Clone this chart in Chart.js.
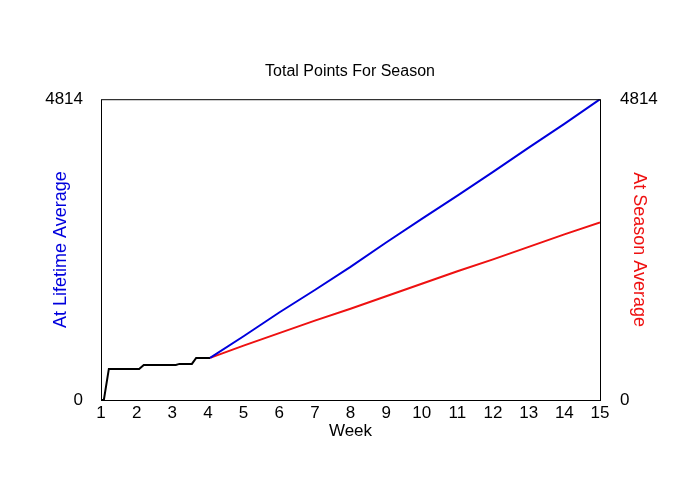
<!DOCTYPE html>
<html><head><script src="https://cdn.jsdelivr.net/npm/chart.js@4"></script>
<style>body{margin:0;background:#fff}</style></head>
<body><canvas id="c" width="700" height="500" style="width:700px;height:500px"></canvas>
<script>
const earlyWeeks = [1, 1.08, 1.22, 2.07, 2.2, 3.1, 3.2, 3.55, 3.67, 4.06];
const earlyPoints = [0, 0, 497, 497, 562, 562, 578, 578, 674, 674];
const projWeeks = [4.06, 5, 6, 7, 8, 9, 10, 11, 12, 13, 14, 15];
const lifetimePoints = [674, 1020, 1400, 1760, 2130, 2520, 2900, 3270, 3650, 4040, 4420, 4814];
const seasonPoints = [674, 870, 1070, 1270, 1460, 1660, 1860, 2060, 2250, 2450, 2650, 2840];
const yMax = 4814;
const pts = (xs, ys) => xs.map((x, i) => ({x, y: ys[i]}));
const font = {family: 'Arial, "Liberation Sans", sans-serif', size: 17};
const tfont = {family: font.family, size: 18};
const box = {id:'box', afterDraw(c){const a=c.chartArea,x=c.ctx;x.save();x.strokeStyle='#000';x.lineWidth=1;x.strokeRect(a.left+0.5,a.top+0.5,a.right-a.left,a.bottom-a.top);x.restore();}};
new Chart(document.getElementById('c'), {
  type: 'line',
  data: {datasets: [
    {data: pts(projWeeks, lifetimePoints), borderColor: '#0000dd', borderWidth: 2, pointRadius: 0, yAxisID: 'y'},
    {data: pts(projWeeks, seasonPoints), borderColor: '#ee1111', borderWidth: 2, pointRadius: 0, yAxisID: 'y'},
    {data: pts(earlyWeeks, earlyPoints), borderColor: '#000', borderWidth: 2, pointRadius: 0, yAxisID: 'y'}
  ]},
  options: {
    responsive: false, animation: false,
    layout: {padding: {left: 0, right: 0, bottom: 58, top: 0}},
    plugins: {legend: {display: false}, tooltip: {enabled: false},
      title: {display: true, text: 'Total Points For Season', color: '#000', font: {family: font.family, size: 16, weight: 'normal'}, padding: {top: 62, bottom: 18}}},
    scales: {
      x: {type: 'linear', min: 1, max: 15, grid: {display: false, drawTicks: false}, border: {display: false},
        ticks: {stepSize: 1, color: '#000', font, padding: 3},
        title: {display: true, text: 'Week', color: '#000', font, padding: 0},
        afterFit(s){s.height = 42;}},
      y: {position: 'left', min: 0, max: yMax, grid: {display: false, drawTicks: false}, border: {display: false},
        afterBuildTicks(s){s.ticks = [{value: 0}, {value: yMax}];},
        ticks: {color: '#000', font, padding: 18, callback: v => String(v)},
        title: {display: true, text: 'At Lifetime Average', color: '#0000dd', font: tfont, padding: {top: 50, bottom: 0}},
        afterFit(s){s.width = 101;}},
      y2: {position: 'right', min: 0, max: yMax, grid: {display: false, drawTicks: false}, border: {display: false},
        afterBuildTicks(s){s.ticks = [{value: 0}, {value: yMax}];},
        ticks: {color: '#000', font, padding: 20, callback: v => String(v)},
        title: {display: true, text: 'At Season Average', color: '#ee1111', font: tfont, padding: {top: 50, bottom: 0}},
        afterFit(s){s.width = 100;}}
    }
  },
  plugins: [box]
});
</script></body></html>
